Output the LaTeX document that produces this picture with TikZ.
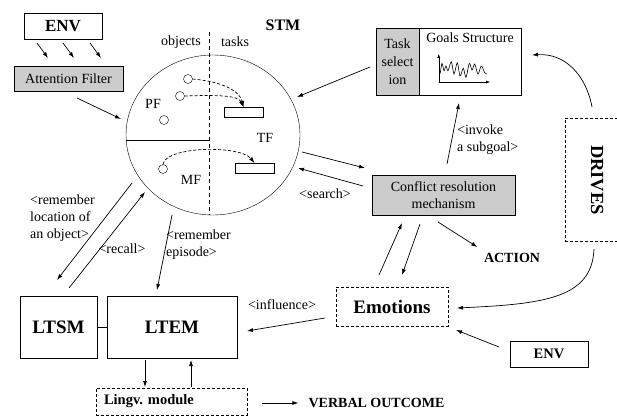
\documentclass[tikz,border=0pt]{standalone}
\usepackage{fontspec}
\setmainfont{Liberation Serif}
\usetikzlibrary{positioning,shapes.geometric,arrows.meta,calc}

\begin{document}
\begin{tikzpicture}[x=1pt, y=-1pt, >={Latex[length=6pt,width=4pt]},
    box/.style={rectangle, draw, inner sep=0pt, outer sep=0pt, text centered},
    grbox/.style={box, fill=gray!40},
    dbox/.style={box, dash pattern=on 3pt off 2pt},
    txt/.style={inner sep=0pt, font=\fontsize{14}{17}\selectfont},
    btxt/.style={inner sep=0pt, font=\bfseries\fontsize{14}{17}\selectfont},
    big/.style={font=\bfseries\fontsize{19}{22}\selectfont},
    flow/.style={->, line width=0.7pt},
    wire/.style={dash pattern=on 3pt off 2pt, line width=0.7pt}]

\useasboundingbox (0,0) rectangle (617,417);

% Environment and attention
\node[box, minimum width=78, minimum height=26, font=\bfseries\fontsize{17}{20}\selectfont] (envtop) at (63,26) {ENV};
\node[grbox, minimum width=109, minimum height=25, txt] (attn) at (68.5,78.5) {Attention Filter};

% STM
\node[ellipse, draw, minimum width=174, minimum height=160, inner sep=0pt, outer sep=0pt] (stm) at (213,135) {};
\draw (126.3,140) -- (209,140);
\draw[dash pattern=on 4pt off 3pt] (209,32) -- (209,215);
\node[txt] (objlbl) at (181,42) {objects};
\node[txt] (tasklbl) at (235,42) {tasks};
\node[font=\bfseries\fontsize{16}{19}\selectfont] (stmlbl) at (283,25) {STM};

\node[circle, draw, minimum size=9, inner sep=0pt] (ob1) at (188,79) {};
\node[circle, draw, minimum size=9, inner sep=0pt] (ob2) at (180,96) {};
\node[circle, draw, minimum size=9, inner sep=0pt] (ob3) at (164,120) {};
\node[circle, draw, minimum size=9, inner sep=0pt] (ob4) at (163,169) {};
\node[box, minimum width=39, minimum height=10] (tk1) at (243.5,112) {};
\node[box, minimum width=39, minimum height=10] (tk2) at (254.5,168) {};
\draw[wire, ->] (ob1.east) .. controls (225,82) and (240,92) .. (tk1.north);
\draw[wire, ->] (ob2.east) .. controls (215,95) and (238,95) .. (tk1.north);
\draw[wire, ->] (ob4.north) .. controls (166,146) and (240,145) .. (tk2.north);
\node[txt] (pflbl) at (153,104) {PF};
\node[txt] (tflbl) at (265,138) {TF};
\node[txt] (mflbl) at (191,180) {MF};

% Goals
\node[grbox, minimum width=43, minimum height=67, align=center, font=\fontsize{14}{18}\selectfont] (tasksel) at (397.5,61.5) {Task\\select\\ion};
\node[box, minimum width=102, minimum height=67, right=0pt of tasksel] (goals) {};
\node[txt] (goalslbl) at (470,38) {Goals Structure};
\draw[-{Latex[length=4pt,width=3pt]}] (438.7,82) -- (438.7,54);
\draw[-{Latex[length=4pt,width=3pt]}] (438.7,82) -- (490,82);
\draw[line width=0.6pt] plot[smooth, tension=0.5] coordinates {(440.3,73.3) (442,63.3) (444,70.7) (446,66) (448,70.7) (451.3,61.7) (454,74) (457.3,62.7) (460,76) (463.3,68.3) (466,77.3) (469.3,63.3) (472,70) (474.7,64) (478,74) (481.3,66) (484.7,72.7) (487,74)};

% Conflict, drives, emotions
\node[grbox, minimum width=143, minimum height=40, txt, align=center] (conflict) at (443.5,195) {Conflict resolution\\mechanism};
\node[dbox, minimum width=65, minimum height=123] (drives) at (597.5,179.5) {};
\node[rotate=-90, font=\bfseries\fontsize{18.5}{22}\selectfont] (drvlbl) at (597,180) {DRIVES};
\node[dbox, minimum width=112, minimum height=39, big] (emo) at (392,306.5) {Emotions};
\node[btxt] (action) at (512,258) {ACTION};
\node[box, minimum width=78, minimum height=26, font=\bfseries\fontsize{14.5}{17}\selectfont] (envbot) at (549,354) {ENV};

% Long-term memory
\node[box, minimum width=77, minimum height=62, big] (ltsm) at (58.5,327) {LTSM};
\node[box, minimum width=130, minimum height=62, big, right=10pt of ltsm] (ltem) {LTEM};
\draw (ltsm) -- (ltem);
\node[dbox, minimum width=151, minimum height=27, font=\bfseries\fontsize{14.5}{17}\selectfont, text width=135, align=left] (lingv) at (171.5,401.5) {Lingv.\ module};
\node[btxt] (verbal) at (376.5,403) {VERBAL OUTCOME};

% Connections
\foreach \dx in {-26,0,27}
  \draw[flow] ($(envtop.south)+(\dx,4)$) -- ($(attn.north)+(\dx+5.5,-8)$);
\draw[flow] ($(attn.south)+(8.5,7)$) -- ($(stm.west)+(-5,-16)$);
\draw[flow] ($(tasksel.west)+(-6,5.5)$) -- ($(stm.east)+(-3,-38)$);
\draw[flow] ($(stm.east)+(2,17)$) -- ($(conflict.west)+(-7,-27)$);
\draw[flow] ($(conflict.west)+(-9,-9)$) -- ($(stm.east)+(-2,33)$);
\node[txt] (searchlbl) at (325,194) {<search>};
\draw[flow] ($(conflict.north)+(3.5,-11)$) -- ($(goals.south)+(-11,8)$);
\node[txt, align=left, anchor=west] (invokelbl) at (457,140) {<invoke\\a subgoal>};
\draw[flow] ($(drives.north)+(-5.5,-11)$) .. controls (586,75) and (565,53) .. ($(goals.east)+(11,-6.5)$);
\draw[flow] ($(drives.south)+(-3.5,8)$) .. controls (592,298) and (545,304) .. ($(emo.east)+(9,1.5)$);
\draw[flow] ($(conflict.south)+(-5.5,7)$) -- ($(action.west)+(-6.5,-11)$);
\draw[flow] ($(emo.north)+(-13,-12)$) -- ($(conflict.south)+(-41.5,8)$);
\draw[flow] ($(conflict.south)+(-23.5,9)$) -- ($(emo.north)+(10,-12)$);
\draw[flow] ($(envbot.west)+(-11,-7)$) -- ($(emo.south east)+(8,4)$);
\draw[flow] ($(emo.west)+(-11,11.5)$) -- ($(ltem.east)+(10,4)$);
\node[txt] (inflbl) at (282,305) {<influence>};
\draw[flow] ($(stm.west)+(6,48)$) -- ($(ltsm.north)+(-1.5,-16)$);
\draw[flow] ($(ltsm.north)+(10.5,-8)$) -- ($(stm.west)+(19,57)$);
\node[txt, align=left, anchor=west] (loclbl) at (30,218) {<remember\\location of\\an object>};
\node[txt] (recalllbl) at (122,249) {<recall>};
\draw[flow] ($(stm.south)+(-41,0)$) -- ($(ltem.north)+(-15,-6)$);
\node[txt, align=left, anchor=west] (epislbl) at (166,245) {<remember\\episode>};
\draw[flow] ($(ltem.south)+(-27,2)$) -- ($(lingv.north)+(-26.5,-1)$);
\draw[flow] ($(lingv.north)+(19.5,-1)$) -- ($(ltem.south)+(19,2)$);
\draw[flow] ($(lingv.east)+(15,1.5)$) -- ($(verbal.west)+(-10,0)$);

\end{tikzpicture}
\end{document}
